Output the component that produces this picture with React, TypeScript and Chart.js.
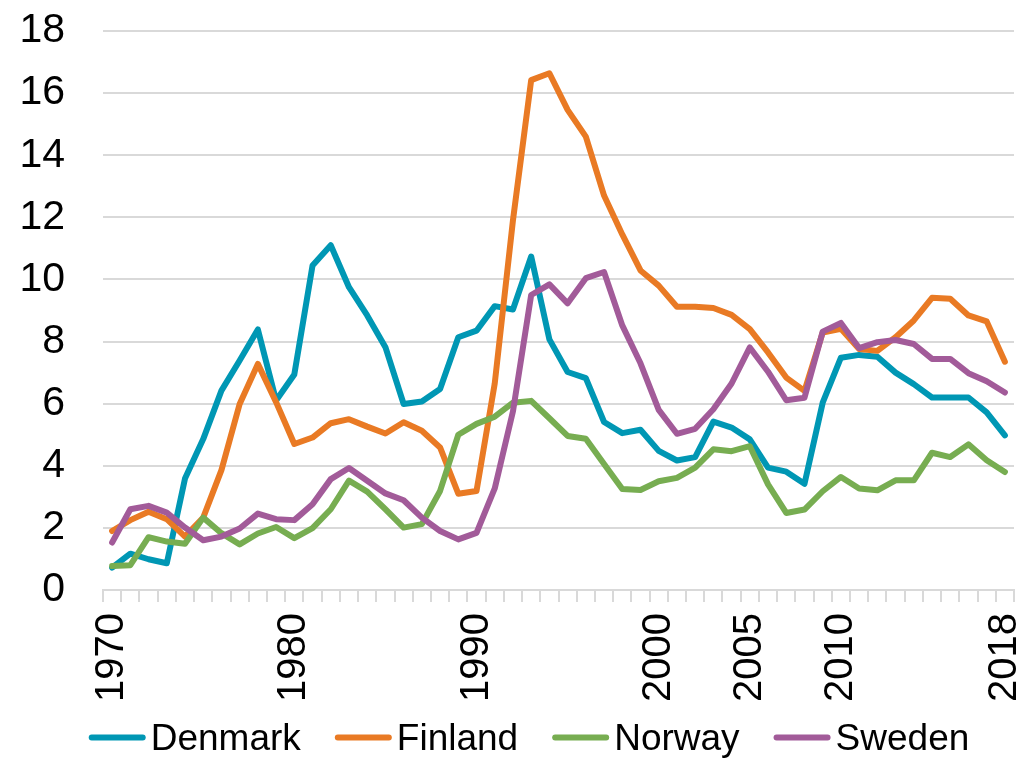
import React, { useEffect, useRef } from "react";
import { Chart, registerables } from "chart.js";

Chart.register(...registerables);

const categories = [
  "1970", "", "", "", "", "", "", "", "", "",
  "1980", "", "", "", "", "", "", "", "", "",
  "1990", "", "", "", "", "", "", "", "", "",
  "2000", "", "", "", "",
  "2005", "", "", "", "",
  "2010", "", "", "", "", "", "", "", "",
  "2018",
];

const denmark = [
  0.72, 1.17, 0.99, 0.86, 3.59, 4.86, 6.42, 7.39, 8.39, 6.1,
  6.94, 10.45, 11.1, 9.75, 8.84, 7.82, 5.99, 6.07, 6.47, 8.14,
  8.35, 9.14, 9.03, 10.74, 8.07, 7.02, 6.82, 5.41, 5.05, 5.16,
  4.48, 4.17, 4.28, 5.42, 5.23,
  4.85, 3.94, 3.81, 3.42, 6.03,
  7.48, 7.57, 7.51, 7.0, 6.63, 6.2, 6.2, 6.2, 5.72,
  4.98,
];

const finland = [
  1.9, 2.25, 2.52, 2.28, 1.72, 2.33, 3.86, 5.99, 7.28, 6.05,
  4.7, 4.91, 5.37, 5.5, 5.26, 5.04, 5.4, 5.13, 4.59, 3.1,
  3.19, 6.65, 11.9, 16.42, 16.64, 15.46, 14.6, 12.7, 11.45, 10.29,
  9.8, 9.12, 9.12, 9.08, 8.86,
  8.4, 7.65, 6.84, 6.41, 8.29,
  8.41, 7.76, 7.7, 8.14, 8.68, 9.41, 9.38, 8.84, 8.65,
  7.35,
];

const norway = [
  0.77, 0.8, 1.7, 1.56, 1.49, 2.33, 1.83, 1.47, 1.82, 2.03,
  1.67, 1.99, 2.6, 3.52, 3.17, 2.6, 2.01, 2.12, 3.19, 5.0,
  5.35, 5.58, 6.03, 6.09, 5.53, 4.96, 4.87, 4.06, 3.25, 3.22,
  3.5, 3.61, 3.94, 4.53, 4.47,
  4.63, 3.4, 2.48, 2.59, 3.18,
  3.64, 3.27, 3.21, 3.53, 3.53, 4.42, 4.28, 4.69, 4.18,
  3.8,
];

const sweden = [
  1.53, 2.6, 2.71, 2.49, 2.01, 1.6, 1.72, 1.98, 2.46, 2.28,
  2.25, 2.76, 3.57, 3.93, 3.52, 3.11, 2.89, 2.33, 1.9, 1.63,
  1.84, 3.27, 5.75, 9.5, 9.84, 9.23, 10.04, 10.24, 8.52, 7.3,
  5.8, 5.03, 5.19, 5.82, 6.65,
  7.81, 7.03, 6.11, 6.19, 8.32,
  8.6, 7.79, 7.98, 8.05, 7.92, 7.44, 7.44, 6.98, 6.72,
  6.36,
];

const seriesNames = ["Denmark", "Finland", "Norway", "Sweden"];
const seriesColors = ["#0097B4", "#E97A24", "#77AD51", "#A25B99"];
const seriesValues = [denmark, finland, norway, sweden];

const FONT = "'Liberation Sans', Arial, sans-serif";
const GRID = "#D9D9D9";

// Bottom legend drawn from the chart's datasets
const legendPlugin = {
  id: "bottomLegend",
  afterDraw(chart: any) {
    const ctx = chart.ctx as CanvasRenderingContext2D;
    const ds = chart.data.datasets;
    const lineLen = 57;
    const gapText = 5;
    const gapItem = 34;
    const centerX = 529;
    const lineY = 737.5;
    const baseY = 750;
    ctx.save();
    ctx.font = `37px ${FONT}`;
    const widths = ds.map((d: any) => lineLen + gapText + ctx.measureText(d.label).width);
    const total = widths.reduce((a: number, b: number) => a + b, 0) + gapItem * (ds.length - 1);
    let x = centerX - total / 2;
    ds.forEach((d: any, i: number) => {
      ctx.strokeStyle = d.borderColor;
      ctx.lineWidth = 6;
      ctx.lineCap = "round";
      ctx.beginPath();
      ctx.moveTo(x + 3, lineY);
      ctx.lineTo(x + lineLen - 3, lineY);
      ctx.stroke();
      ctx.fillStyle = "#000";
      ctx.textAlign = "left";
      ctx.textBaseline = "alphabetic";
      ctx.fillText(d.label, x + lineLen + gapText, baseY);
      x += widths[i] + gapItem;
    });
    ctx.restore();
  },
};

export default function App() {
  const ref = useRef<HTMLCanvasElement | null>(null);

  useEffect(() => {
    if (!ref.current) return;
    const chart = new Chart(ref.current, {
      type: "line",
      data: {
        labels: categories,
        datasets: seriesValues.map((vals, i) => ({
          label: seriesNames[i],
          data: vals,
          borderColor: seriesColors[i],
          backgroundColor: seriesColors[i],
          borderWidth: 6,
          pointRadius: 0,
          tension: 0,
          borderCapStyle: "round" as const,
          borderJoinStyle: "round" as const,
          order: seriesValues.length - 1 - i,
        })),
      },
      options: {
        animation: false,
        responsive: false,
        devicePixelRatio: 1,
        layout: { padding: { left: 10, right: 11, top: 31, bottom: 57 } },
        scales: {
          x: {
            offset: true,
            afterFit: (s: any) => {
              s.height = 111;
              s.paddingLeft = 0;
              s.paddingRight = 0;
            },
            grid: {
              display: true,
              offset: true,
              drawOnChartArea: false,
              drawTicks: true,
              tickLength: 12,
              color: GRID,
              lineWidth: 2,
            },
            border: { display: true, color: GRID, width: 2 },
            ticks: {
              autoSkip: false,
              maxRotation: 90,
              minRotation: 90,
              padding: 11,
              color: "#000",
              font: { family: FONT, size: 40 },
            },
          },
          y: {
            min: 0,
            max: 18,
            afterFit: (s: any) => {
              s.width = 93;
              s.paddingTop = 0;
              s.paddingBottom = 0;
            },
            grid: {
              color: GRID,
              lineWidth: 2,
              drawTicks: false,
              tickLength: 0,
            },
            border: { display: false },
            ticks: {
              stepSize: 2,
              padding: 38,
              color: "#000",
              font: { family: FONT, size: 41 },
            },
          },
        },
        plugins: {
          legend: { display: false },
          tooltip: { enabled: false },
        },
      },
      plugins: [legendPlugin],
    });
    return () => chart.destroy();
  }, []);

  return (
    <div style={{ position: "fixed", left: 0, top: 0, width: 1025, height: 758, background: "#fff" }}>
      <canvas ref={ref} width={1025} height={758} />
    </div>
  );
}
